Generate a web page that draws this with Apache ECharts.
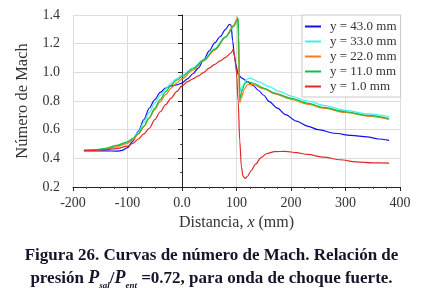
<!DOCTYPE html>
<html>
<head>
<meta charset="utf-8">
<script src="https://cdn.jsdelivr.net/npm/echarts@6/dist/echarts.min.js"></script>
<style>
  html, body { margin: 0; padding: 0; background: #fff; }
  #chart { width: 423px; height: 288px; }
</style>
</head>
<body>
<div id="chart"></div>
<script>
// leyenda / series
var seriesNames = ['y = 43.0 mm', 'y = 33.0 mm', 'y = 22.0 mm', 'y = 11.0 mm', 'y = 1.0 mm'];
var yTicks = [0.2, 0.4, 0.6, 0.8, 1.0, 1.2, 1.4];
var xTicks = [-200, -100, 0, 100, 200, 300, 400];

// y = 43.0 mm  [x (mm), Mach]
var y43 = [[-180,0.452],[-160,0.452],[-140,0.452],[-120,0.450],[-110,0.455],[-100,0.475],[-90,0.52],[-80,0.59],
  [-70,0.67],[-60,0.75],[-50,0.81],[-40,0.86],[-30,0.89],[-20,0.905],[-10,0.912],[0,0.925],[10,0.955],[20,0.99],
  [30,1.03],[40,1.09],[50,1.15],[60,1.205],[70,1.25],[80,1.30],[87,1.335],[90,1.33],[93,1.22],[96,1.12],[99,1.05],
  [103,0.985],[110,0.96],[120,0.935],[130,0.91],[140,0.875],[150,0.84],[160,0.795],[175,0.75],[190,0.705],[210,0.66],
  [230,0.625],[250,0.60],[280,0.575],[310,0.56],[340,0.55],[360,0.535],[380,0.525]];
// y = 33.0 mm
var y33 = [[-180,0.455],[-160,0.457],[-140,0.465],[-120,0.48],[-100,0.51],[-90,0.54],[-80,0.585],[-70,0.65],
  [-60,0.72],[-50,0.785],[-40,0.84],[-30,0.885],[-20,0.925],[-10,0.955],[0,0.98],[20,1.03],[40,1.09],[60,1.165],
  [80,1.25],[95,1.32],[101,1.36],[103,1.37],[104,1.25],[105,1.0],[106,0.9],[108,0.87],[112,0.91],[118,0.95],
  [125,0.96],[140,0.935],[160,0.90],[180,0.865],[200,0.835],[230,0.80],[260,0.77],[300,0.735],[340,0.71],[380,0.69]];
// y = 22.0 mm
var y22 = [[-180,0.455],[-160,0.458],[-140,0.465],[-120,0.48],[-100,0.505],[-90,0.53],[-80,0.57],[-70,0.62],
  [-60,0.68],[-50,0.74],[-40,0.795],[-30,0.845],[-20,0.89],[-10,0.925],[0,0.955],[20,1.015],[40,1.08],[60,1.155],
  [80,1.245],[95,1.33],[100,1.37],[102,1.385],[103,1.30],[104,1.05],[105,0.85],[106,0.79],[109,0.82],[114,0.88],
  [120,0.915],[130,0.915],[150,0.885],[170,0.85],[200,0.812],[230,0.778],[260,0.75],[300,0.72],[340,0.695],[380,0.672]];
// y = 11.0 mm
var y11 = [[-180,0.455],[-160,0.46],[-140,0.47],[-120,0.49],[-100,0.515],[-90,0.54],[-80,0.575],[-70,0.625],
  [-60,0.685],[-50,0.75],[-40,0.81],[-30,0.865],[-20,0.91],[-10,0.945],[0,0.97],[20,1.025],[40,1.085],[60,1.16],
  [80,1.245],[95,1.32],[101,1.36],[103,1.375],[104,1.25],[105,1.0],[106,0.85],[107,0.82],[110,0.87],[115,0.92],
  [120,0.935],[130,0.925],[150,0.89],[170,0.855],[200,0.82],[230,0.785],[260,0.755],[300,0.725],[340,0.70],[380,0.678]];
// y = 1.0 mm
var y1 = [[-180,0.455],[-160,0.456],[-140,0.46],[-120,0.468],[-100,0.485],[-90,0.505],[-80,0.535],[-70,0.57],
  [-60,0.61],[-50,0.67],[-40,0.725],[-30,0.775],[-20,0.82],[-10,0.865],[0,0.905],[10,0.935],[20,0.955],[30,0.975],
  [40,1.0],[50,1.03],[60,1.055],[70,1.08],[80,1.105],[90,1.135],[94,1.16],[97,1.10],[100,1.0],[103,0.80],[106,0.52],
  [109,0.34],[112,0.275],[116,0.26],[120,0.275],[127,0.315],[135,0.36],[145,0.405],[155,0.432],[170,0.447],[190,0.448],
  [210,0.44],[230,0.427],[260,0.408],[290,0.39],[320,0.375],[350,0.368],[380,0.367]];

var colores = ['#1010f0', '#40f0f0', '#ff7a1a', '#10c040', '#e02828'];
var serif = '"Liberation Serif", "DejaVu Serif", serif';

var chart = echarts.init(document.getElementById('chart'));

function serie(nombre, datos, color) {
    return {
        name: nombre,
        type: 'line',
        data: datos,
        symbol: 'none',
        smooth: 0.3,
        smoothMonotone: 'x',
        lineStyle: { color: color, width: 1.2 },
        itemStyle: { color: color }
    };
}

var option = {
    animation: false,
    backgroundColor: '#fff',
    title: {
        left: 'center',
        top: 239,
        text: '{b|Figura 26. Curvas de número de Mach. Relación de}\n' +
              '{b|presión }{i|P}{s|sal}{b|/}{i|P}{s|ent}{b| =0.72, para onda de choque fuerte.}',
        textStyle: {
            rich: {
                b: { fontFamily: serif, fontWeight: 'bold', fontSize: 17, color: '#14142a', lineHeight: 23 },
                i: { fontFamily: serif, fontWeight: 'bold', fontStyle: 'italic', fontSize: 18, color: '#14142a', lineHeight: 23 },
                s: { fontFamily: serif, fontStyle: 'italic', fontSize: 9, color: '#14142a', lineHeight: 23, verticalAlign: 'bottom', padding: [8, 0, 0, 0] }
            }
        }
    },
    legend: {
        orient: 'vertical',
        left: 302,
        top: 15,
        width: 97,
        height: 81,
        padding: [5, 4, 4, 3],
        itemGap: 2,
        icon: 'rect',
        itemWidth: 16,
        itemHeight: 2,
        backgroundColor: '#fff',
        borderColor: '#c8c8c8',
        borderWidth: 1,
        data: seriesNames,
        textStyle: { fontFamily: serif, fontSize: 13, color: '#333', padding: [0, 0, 0, 4], lineHeight: 13 }
    },
    grid: { left: 73, right: 23, top: 15, bottom: 101 },
    xAxis: {
        type: 'value',
        min: xTicks[0],
        max: xTicks[xTicks.length - 1],
        interval: 100,
        name: '{n|Distancia, }{it|x}{n| (mm)}',
        nameLocation: 'middle',
        nameGap: 24,
        nameTextStyle: {
            rich: {
                n: { fontFamily: serif, fontSize: 16, color: '#333' },
                it: { fontFamily: serif, fontStyle: 'italic', fontSize: 16, color: '#333' }
            }
        },
        axisLine: { lineStyle: { color: '#222', width: 1 } },
        axisTick: { length: 4, lineStyle: { color: '#222' } },
        minorTick: { show: true, splitNumber: 4, length: 2, lineStyle: { color: '#444' } },
        splitLine: { show: true, lineStyle: { color: '#dcdcdc', width: 1 } },
        axisLabel: {
            fontFamily: serif, fontSize: 14, color: '#333', margin: 9,
            formatter: function (v) { return v === 0 ? '0.0' : String(v); }
        }
    },
    yAxis: {
        type: 'value',
        min: yTicks[0],
        max: yTicks[yTicks.length - 1],
        interval: 0.2,
        name: 'Número de Mach',
        nameLocation: 'middle',
        nameGap: 38,
        nameTextStyle: { fontFamily: serif, fontSize: 16.5, color: '#333' },
        axisLine: { show: true, lineStyle: { color: '#222', width: 1 } },
        axisTick: { show: true, length: 4, lineStyle: { color: '#222' } },
        minorTick: { show: true, splitNumber: 2, length: 2, lineStyle: { color: '#444' } },
        splitLine: { show: true, lineStyle: { color: '#dcdcdc', width: 1 } },
        axisLabel: {
            fontFamily: serif, fontSize: 14, color: '#333', margin: 13,
            formatter: function (v) { return v.toFixed(1); }
        }
    },
    series: [
        serie(seriesNames[0], y43, colores[0]),
        serie(seriesNames[1], y33, colores[1]),
        serie(seriesNames[2], y22, colores[2]),
        serie(seriesNames[3], y11, colores[3]),
        serie(seriesNames[4], y1, colores[4])
    ]
};

chart.setOption(option);
</script>
</body>
</html>
